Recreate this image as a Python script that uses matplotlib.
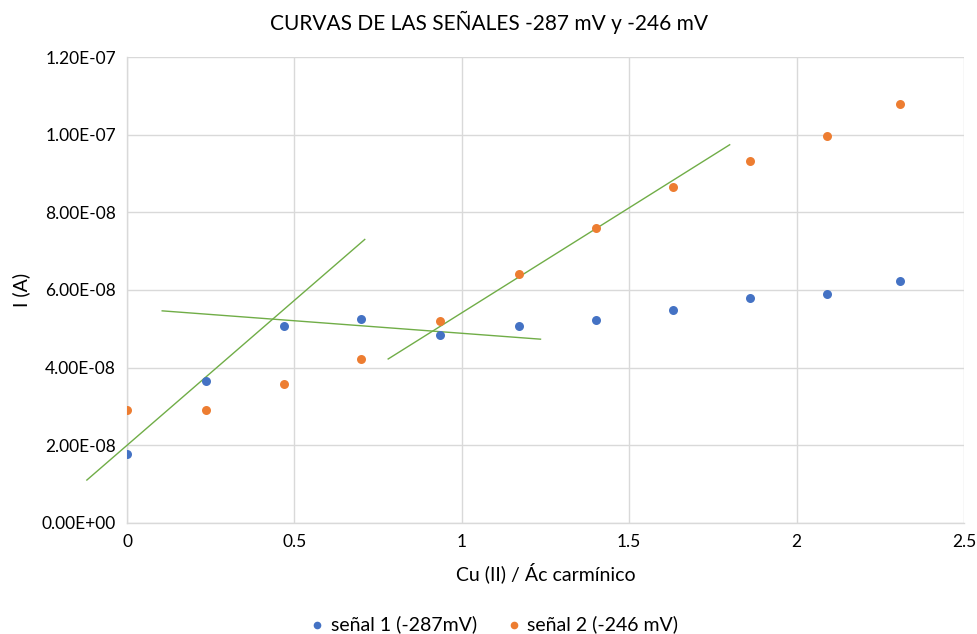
import matplotlib
matplotlib.use("Agg")
import matplotlib.pyplot as plt
from matplotlib.ticker import FuncFormatter

plt.rcParams['font.family'] = ['Lato', 'DejaVu Sans']

# Cu(II) / acido carminico ratio
ratio = [0, 0.235, 0.47, 0.70, 0.935, 1.17, 1.40, 1.63, 1.86, 2.09, 2.31]

senal1 = [1.78e-8, 3.66e-8, 5.07e-8, 5.25e-8, 4.84e-8, 5.07e-8,
          5.22e-8, 5.49e-8, 5.79e-8, 5.90e-8, 6.23e-8]
senal2 = [2.90e-8, 2.90e-8, 3.57e-8, 4.22e-8, 5.20e-8, 6.42e-8,
          7.60e-8, 8.64e-8, 9.33e-8, 9.97e-8, 1.078e-7]

# trend line segments (x start, x end), (y start, y end)
trend1_x = [-0.12, 0.71]
trend1_y = [1.10e-8, 7.30e-8]
trend2_x = [0.105, 1.235]
trend2_y = [5.46e-8, 4.73e-8]
trend3_x = [0.78, 1.80]
trend3_y = [4.22e-8, 9.74e-8]

blue = '#4472C4'
orange = '#ED7D31'
green = '#70AD47'
grid_col = '#D9D9D9'
text_col = '#000000'

fig = plt.figure(figsize=(9.78, 6.34), dpi=100)
ax = fig.add_axes([0.1299, 0.1755, 0.8558, 0.7345])

for tx, ty in [(trend1_x, trend1_y), (trend2_x, trend2_y), (trend3_x, trend3_y)]:
    ax.plot(tx, ty, color=green, lw=1.0, clip_on=False, zorder=3)

ax.scatter(ratio, senal1, s=42, color=blue, label='señal 1 (-287mV)', zorder=4, linewidths=0)
ax.scatter(ratio, senal2, s=42, color=orange, label='señal 2 (-246 mV)', zorder=4, linewidths=0)

ax.set_xlim(0, 2.5)
ax.set_ylim(0, 1.2e-7)
ax.set_xticks([0, 0.5, 1, 1.5, 2, 2.5])
ax.set_yticks([i * 2e-8 for i in range(7)])
ax.xaxis.set_major_formatter(FuncFormatter(lambda v, p: '%g' % v))
ax.yaxis.set_major_formatter(FuncFormatter(lambda v, p: '%.2E' % v))

ax.grid(True, color=grid_col, lw=1.0)
ax.set_axisbelow(True)
for s in ['top', 'right']:
    ax.spines[s].set_visible(False)
for s in ['left', 'bottom']:
    ax.spines[s].set_color(grid_col)
    ax.spines[s].set_linewidth(1.0)
ax.tick_params(length=0, labelsize=12.5, colors=text_col, pad=8)

ax.set_xlabel('Cu (II) / Ác carmínico', fontsize=14, labelpad=9)
ax.set_ylabel('I (A)', fontsize=14, labelpad=8)
fig.text(0.5, 0.965, 'CURVAS DE LAS SEÑALES -287 mV y -246 mV', ha='center', va='center', fontsize=15)

fig.legend(loc='center', bbox_to_anchor=(0.506, 0.015), ncol=2, frameon=False,
           fontsize=14, handlelength=0.6, handletextpad=0.4, columnspacing=1.6, markerscale=0.85)

fig.savefig('out.png', dpi=100)
